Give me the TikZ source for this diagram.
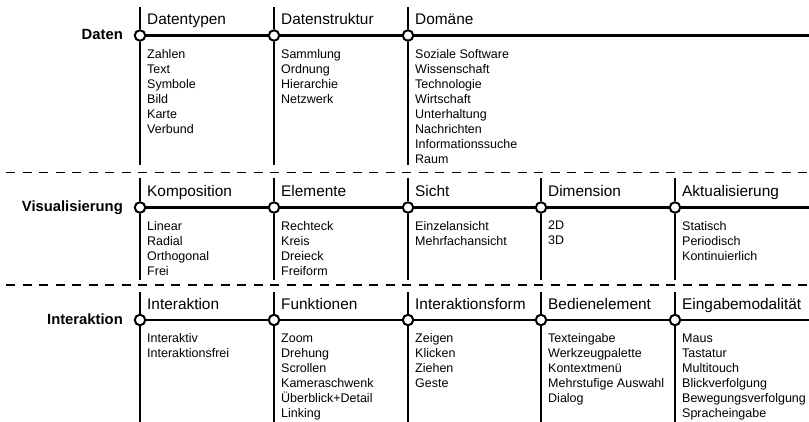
\documentclass[tikz,border=0pt]{standalone}
\usepackage{fontspec}
\setmainfont{Liberation Sans}
\begin{document}
\begin{tikzpicture}[x=1pt,y=-1pt]
% Stile
\tikzset{
punkt/.style={draw=black, fill=white, circle, line width=2pt, minimum size=10.5pt, inner sep=0pt},
achse/.style={line width=2.4pt},
spalte/.style={line width=1.2pt},
trenner/.style={line width=1.2pt, dash pattern=on 9pt off 7.5pt, dash phase=-6pt},
zeile/.style={font=\fontsize{14.8}{17}\selectfont\bfseries, anchor=base east, inner sep=0pt},
kategorie/.style={font=\fontsize{15.4}{18}\selectfont, anchor=base west, inner sep=0pt},
werte/.style={font=\fontsize{12.5}{15}\selectfont, align=left, anchor=north west, inner sep=0pt}
}
\useasboundingbox (0,0) rectangle (809,422);
% Trennlinien
\coordinate (t1a) at (0,172.7);
\coordinate (t1b) at (809,172.7);
\coordinate (t2a) at (0,285);
\coordinate (t2b) at (809,285);
\draw[trenner] (t1a) -- (t1b);
\draw[trenner] (t2a) -- (t2b);
% Daten
\node[zeile] (daten) at (123,39.5) {Daten};
\node[punkt] (d1) at (140,35.5) {};
\node[punkt] (d2) at (274,35.5) {};
\node[punkt] (d3) at (408,35.5) {};
\coordinate (dende) at (809,35.5);
\draw[achse] (d1) -- (d2) -- (d3) -- (dende);
\draw[spalte] (d1.north) -- (d1 |- 0,7) (d1.south) -- (d1 |- 0,165);
\draw[spalte] (d2.north) -- (d2 |- 0,7) (d2.south) -- (d2 |- 0,165);
\draw[spalte] (d3.north) -- (d3 |- 0,7) (d3.south) -- (d3 |- 0,165);
\node[kategorie] (d1k) at (147,25) {Datentypen};
\node[kategorie] (d2k) at (281,25) {Datenstruktur};
\node[kategorie] (d3k) at (415,25) {Domäne};
\node[werte] (d1w) at (147,48.8) {Zahlen\\Text\\Symbole\\Bild\\Karte\\Verbund};
\node[werte] (d2w) at (281,48.8) {Sammlung\\Ordnung\\Hierarchie\\Netzwerk};
\node[werte] (d3w) at (415,48.8) {Soziale Software\\Wissenschaft\\Technologie\\Wirtschaft\\Unterhaltung\\Nachrichten\\Informationssuche\\Raum};
% Visualisierung
\node[zeile] (visual) at (123,211.5) {Visualisierung};
\node[punkt] (v1) at (140,207.5) {};
\node[punkt] (v2) at (274,207.5) {};
\node[punkt] (v3) at (408,207.5) {};
\node[punkt] (v4) at (541,207.5) {};
\node[punkt] (v5) at (675,207.5) {};
\coordinate (vende) at (809,207.5);
\draw[achse] (v1) -- (v2) -- (v3) -- (v4) -- (v5) -- (vende);
\draw[spalte] (v1.north) -- (v1 |- 0,178) (v1.south) -- (v1 |- 0,280);
\draw[spalte] (v2.north) -- (v2 |- 0,178) (v2.south) -- (v2 |- 0,280);
\draw[spalte] (v3.north) -- (v3 |- 0,178) (v3.south) -- (v3 |- 0,280);
\draw[spalte] (v4.north) -- (v4 |- 0,178) (v4.south) -- (v4 |- 0,280);
\draw[spalte] (v5.north) -- (v5 |- 0,178) (v5.south) -- (v5 |- 0,280);
\node[kategorie] (v1k) at (147,197) {Komposition};
\node[kategorie] (v2k) at (281,197) {Elemente};
\node[kategorie] (v3k) at (415,197) {Sicht};
\node[kategorie] (v4k) at (548,197) {Dimension};
\node[kategorie] (v5k) at (682,197) {Aktualisierung};
\node[werte] (v1w) at (147,220.8) {Linear\\Radial\\Orthogonal\\Frei};
\node[werte] (v2w) at (281,220.8) {Rechteck\\Kreis\\Dreieck\\Freiform};
\node[werte] (v3w) at (415,220.8) {Einzelansicht\\Mehrfachansicht};
\node[werte] (v4w) at (548,220.8) {2D\\3D};
\node[werte] (v5w) at (682,220.8) {Statisch\\Periodisch\\Kontinuierlich};
% Interaktion
\node[zeile] (inter) at (123,324) {Interaktion};
\node[punkt] (i1) at (140,320) {};
\node[punkt] (i2) at (274,320) {};
\node[punkt] (i3) at (408,320) {};
\node[punkt] (i4) at (541,320) {};
\node[punkt] (i5) at (675,320) {};
\coordinate (iende) at (809,320);
\draw[achse] (i1) -- (i2) -- (i3) -- (i4) -- (i5) -- (iende);
\draw[spalte] (i1.north) -- (i1 |- 0,292) (i1.south) -- (i1 |- 0,422);
\draw[spalte] (i2.north) -- (i2 |- 0,292) (i2.south) -- (i2 |- 0,422);
\draw[spalte] (i3.north) -- (i3 |- 0,292) (i3.south) -- (i3 |- 0,422);
\draw[spalte] (i4.north) -- (i4 |- 0,292) (i4.south) -- (i4 |- 0,422);
\draw[spalte] (i5.north) -- (i5 |- 0,292) (i5.south) -- (i5 |- 0,422);
\node[kategorie] (i1k) at (147,309.5) {Interaktion};
\node[kategorie] (i2k) at (281,309.5) {Funktionen};
\node[kategorie] (i3k) at (415,309.5) {Interaktionsform};
\node[kategorie] (i4k) at (548,309.5) {Bedienelement};
\node[kategorie] (i5k) at (682,309.5) {Eingabemodalität};
\node[werte] (i1w) at (147,333.3) {Interaktiv\\Interaktionsfrei};
\node[werte] (i2w) at (281,333.3) {Zoom\\Drehung\\Scrollen\\Kameraschwenk\\Überblick+Detail\\Linking};
\node[werte] (i3w) at (415,333.3) {Zeigen\\Klicken\\Ziehen\\Geste};
\node[werte] (i4w) at (548,333.3) {Texteingabe\\Werkzeugpalette\\Kontextmenü\\Mehrstufige Auswahl\\Dialog};
\node[werte] (i5w) at (682,333.3) {Maus\\Tastatur\\Multitouch\\Blickverfolgung\\Bewegungsverfolgung\\Spracheingabe};
\end{tikzpicture}
\end{document}
